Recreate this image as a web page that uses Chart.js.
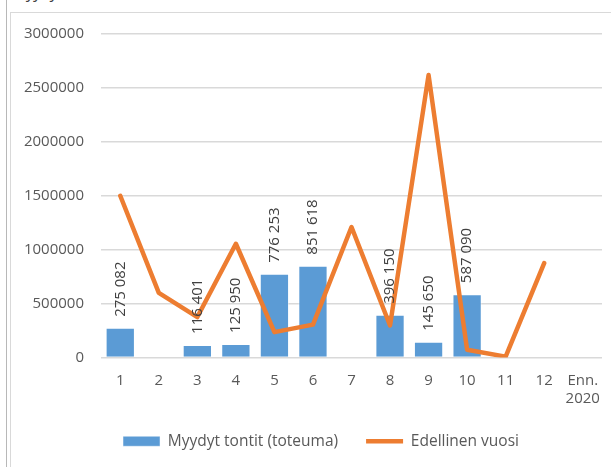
<!DOCTYPE html>
<html>
<head>
<meta charset="utf-8">
<script src="https://cdn.jsdelivr.net/npm/chart.js@4.4.1/dist/chart.umd.min.js"></script>
<style>
  body { margin: 0; background: #fff; width: 611px; height: 467px; overflow: hidden; position: relative; }
  #edge { position: absolute; left: 6px; top: 0; width: 1px; height: 467px; background: #b8b8b8; }
  #title { position: absolute; left: 14px; top: -19px; font: italic 16px "Open Sans", sans-serif; color: #404040; }
  #frame { position: absolute; left: 10px; top: 12px; width: 620px; height: 470px; border: 1px solid #d9d9d9; box-sizing: border-box; }
  #wrap { position: absolute; left: 10px; top: 13px; width: 601px; height: 454px; }
</style>
</head>
<body>
<div id="edge"></div>
<div id="title">Myydyt tontit</div>
<div id="frame"></div>
<div id="wrap"><canvas id="chart"></canvas></div>
<script>
//Months + forecast column
var months = ['1', '2', '3', '4', '5', '6', '7', '8', '9', '10', '11', '12', ['Enn.', '2020']];

//Sold plots (toteuma)
var soldValues = [275082, null, 116401, 125950, 776253, 851618, null, 396150, 145650, 587090, null, null, null];

//Previous year
var prevYear = [1500000, 600000, 375000, 1055000, 235000, 305000, 1210000, 297000, 2620000, 72000, 8000, 875000, null];

var yTicks = [0, 500000, 1000000, 1500000, 2000000, 2500000, 3000000];

var fontName = '"Open Sans", sans-serif';

//rotated value labels above bars
var barLabels = {
  id: 'barLabels',
  afterDatasetsDraw: function(chart) {
    var c = chart.ctx;
    var meta = chart.getDatasetMeta(0);
    c.save();
    c.font = '15px ' + fontName;
    c.fillStyle = '#404040';
    c.textAlign = 'left';
    c.textBaseline = 'middle';
    meta.data.forEach(function(bar, i) {
      var v = soldValues[i];
      if (v == null) return;
      var txt = String(v).replace(/\B(?=(\d{3})+(?!\d))/g, ' ');
      c.save();
      c.translate(bar.x, bar.y - 11);
      c.rotate(-Math.PI / 2);
      c.fillText(txt, 0, 0);
      c.restore();
    });
    c.restore();
  }
};

//legend sits a bit right of centre in the original
var legendShift = {
  id: 'legendShift',
  afterLayout: function(chart) {
    chart.legend.left += 15;
    chart.legend.right += 15;
  }
};

var ctx = document.getElementById('chart');
var myChart = new Chart(ctx, {
  data: {
    labels: months,
    datasets: [
      {
        type: 'bar',
        label: 'Myydyt tontit (toteuma)',
        data: soldValues,
        backgroundColor: '#5B9BD5',
        borderColor: 'rgba(255,255,255,0.45)',
        borderWidth: 1,
        barPercentage: 0.76,
        categoryPercentage: 1,
        pointStyle: 'rect',
        order: 2
      },
      {
        type: 'line',
        label: 'Edellinen vuosi',
        data: prevYear,
        borderColor: '#ED7D31',
        backgroundColor: '#ED7D31',
        borderWidth: 4.5,
        pointRadius: 0,
        borderJoinStyle: 'round',
        borderCapStyle: 'round',
        pointStyle: 'line',
        order: 1
      }
    ]
  },
  options: {
    responsive: true,
    maintainAspectRatio: false,
    animation: false,
    layout: { padding: { top: 21, right: 9, bottom: 8, left: 0 } },
    plugins: {
      legend: {
        position: 'bottom',
        labels: {
          usePointStyle: true,
          pointStyleWidth: 37,
          boxHeight: 10,
          padding: 28,
          color: '#595959',
          font: { family: fontName, size: 15.5 },
          sort: function(a, b) { return a.datasetIndex - b.datasetIndex; }
        }
      },
      tooltip: { enabled: false }
    },
    scales: {
      x: {
        offset: true,
        grid: { display: false },
        border: { display: false },
        ticks: { color: '#595959', padding: 6, maxRotation: 0, font: { family: fontName, size: 15 } },
        afterFit: function(s) { s.height = 48; }
      },
      y: {
        min: 0,
        max: 3000000,
        afterBuildTicks: function(s) { s.ticks = yTicks.map(function(v) { return { value: v }; }); },
        grid: { color: '#d9d9d9', lineWidth: 1.5, drawTicks: false },
        border: { display: false },
        ticks: {
          color: '#595959',
          padding: 17,
          font: { family: fontName, size: 15 },
          callback: function(v) { return String(v); }
        },
        afterFit: function(s) {
          s.width = 91;
          s.paddingTop = 0;
          s.paddingBottom = 0;
        }
      }
    }
  },
  plugins: [barLabels, legendShift]
});
</script>
</body>
</html>
